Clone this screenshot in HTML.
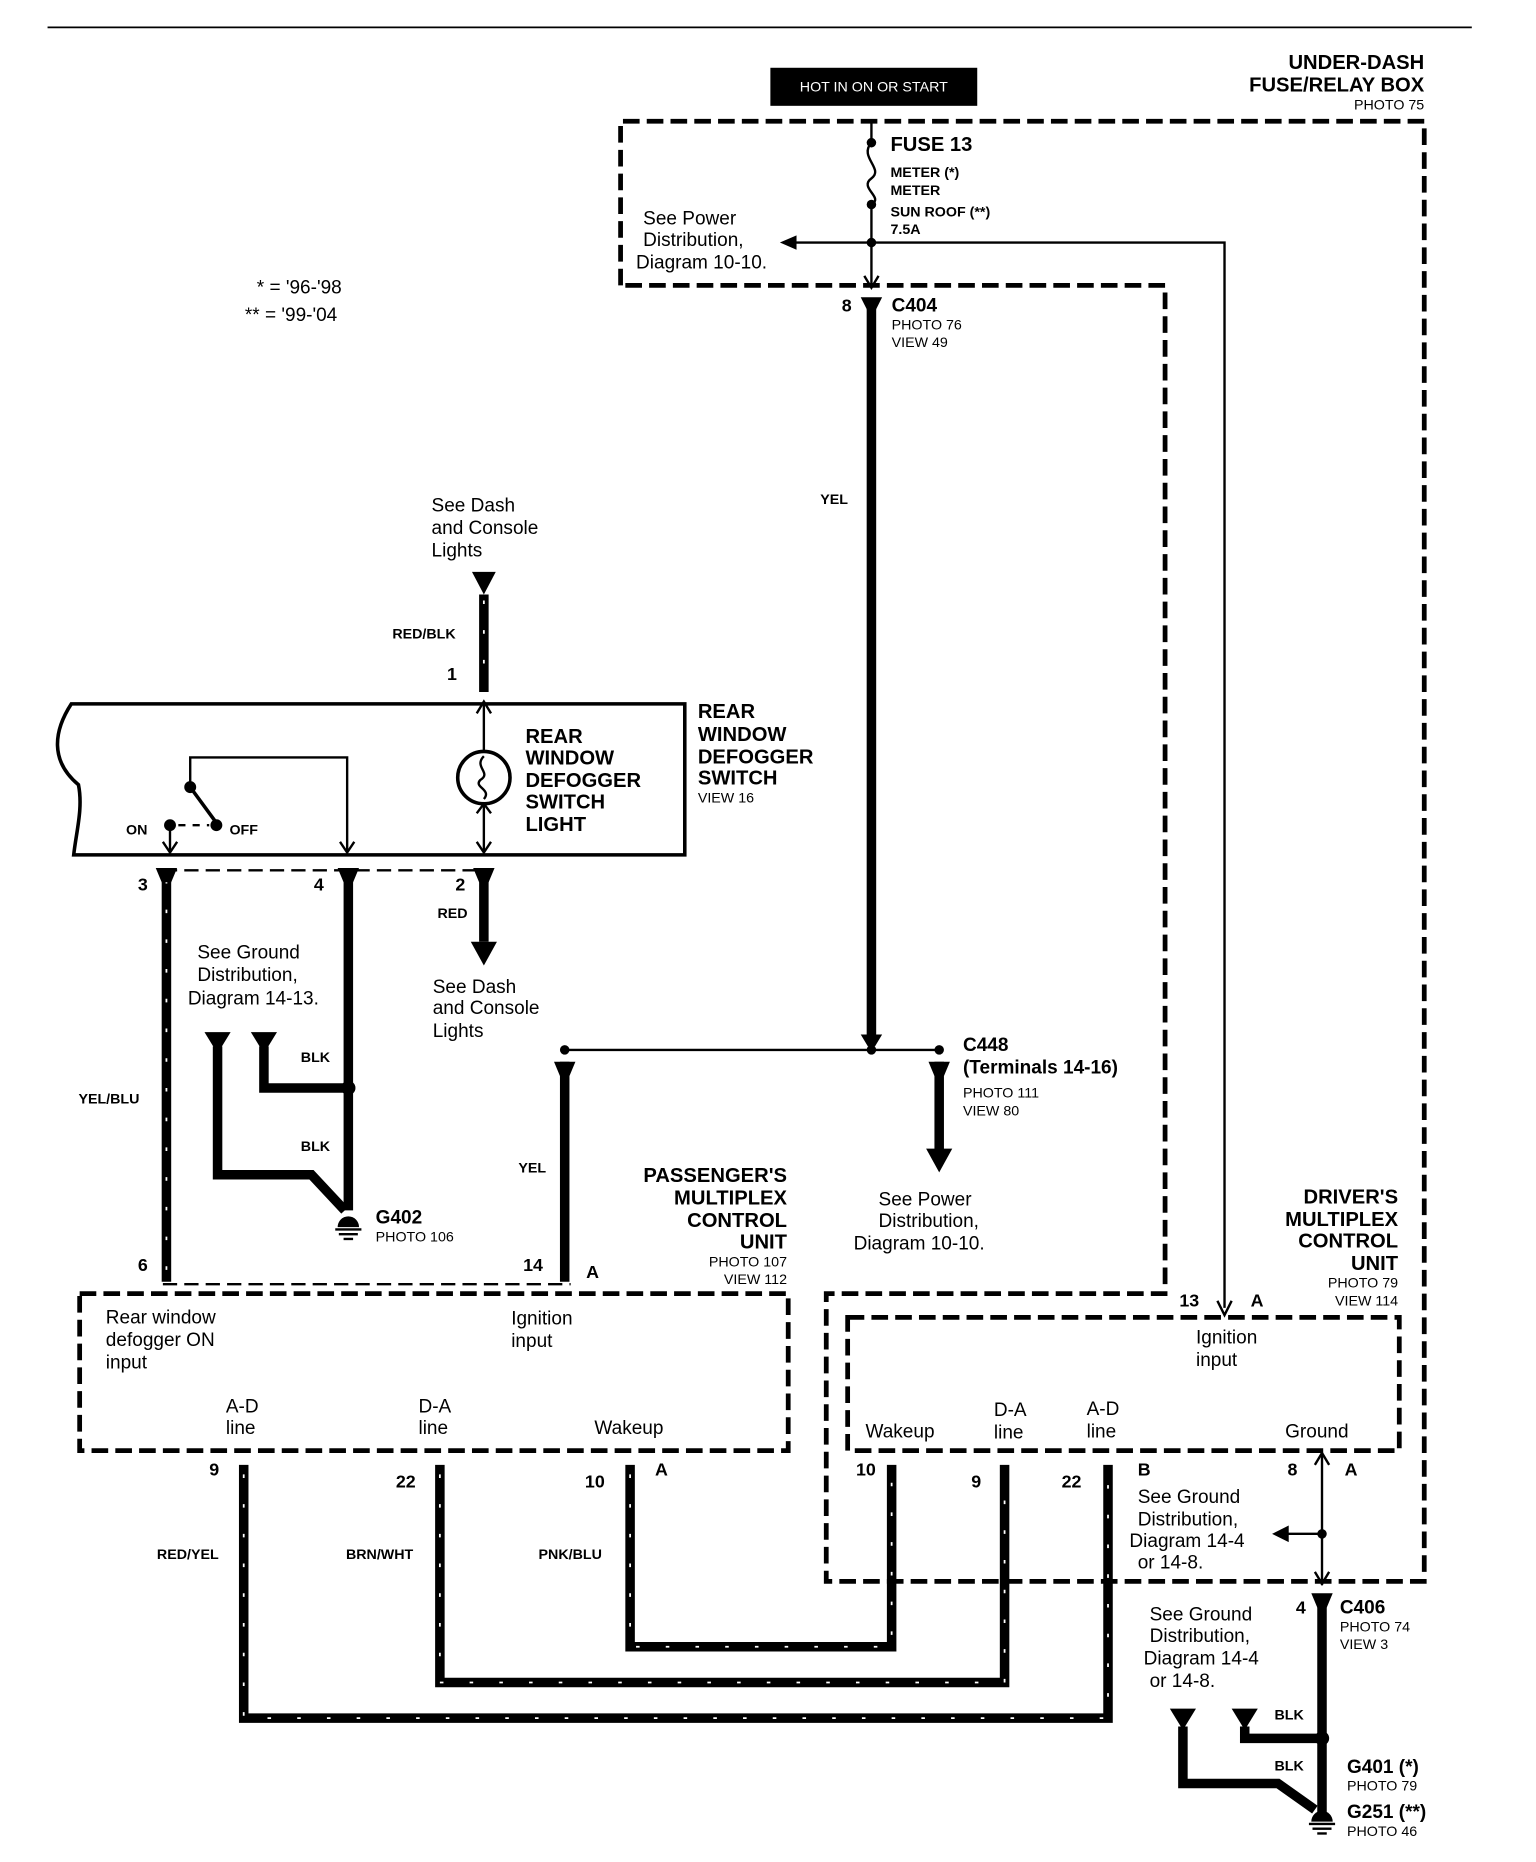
<!DOCTYPE html>
<html><head><meta charset="utf-8"><style>
html,body{margin:0;padding:0;background:#fff;}
svg{display:block;}
text{font-family:"Liberation Sans",sans-serif;fill:#000;}
.b{font-weight:bold;font-size:17px;}
.n{font-size:16px;}
.s{font-size:12px;}
.sb{font-weight:bold;font-size:12px;}
</style></head><body>
<svg width="1536" height="1862" viewBox="0 0 1292 1566" preserveAspectRatio="none" xmlns="http://www.w3.org/2000/svg">
<g fill="none" stroke="#000">
<line x1="40" y1="23" x2="1238" y2="23" stroke-width="1.5"/>
<path d="M522,240 V102 H1198 V1330 H695 V1088 H980 V240 H522" stroke-width="4" stroke-dasharray="14,6"/>
<rect x="67" y="1088" width="596" height="132" stroke-width="4" stroke-dasharray="14,6"/>
<rect x="713" y="1108" width="464" height="112" stroke-width="4" stroke-dasharray="14,6"/>
<line x1="733" y1="102" x2="733" y2="120" stroke-width="2"/>
<path d="M733,120 C722,132 744,142 733,150 C722,158 744,166 733,172" stroke-width="2"/>
<line x1="733" y1="172" x2="733" y2="240" stroke-width="2"/>
<line x1="733" y1="204" x2="668" y2="204" stroke-width="2"/>
<path d="M733,204 H1030 V1100" stroke-width="2"/>
<path d="M1024,1094 L1030,1106 L1036,1094" stroke-width="2"/>
<path d="M727,232 L733,242 L739,232" stroke-width="2"/>
<line x1="733" y1="258" x2="733" y2="872" stroke-width="8"/>
<line x1="475" y1="883" x2="790" y2="883" stroke-width="2"/>
<line x1="475" y1="893" x2="475" y2="1078" stroke-width="8"/>
<line x1="790" y1="893" x2="790" y2="968" stroke-width="8"/>
<path d="M576,592 H60 C45,615 42,640 66,660 C70,680 64,700 62,719 H576 Z" stroke-width="3"/>
<line x1="407" y1="500" x2="407" y2="582" stroke-width="8"/>
<line x1="407" y1="592" x2="407" y2="632" stroke-width="2"/>
<path d="M401,600 L407,590 L413,600" stroke-width="2"/>
<circle cx="407" cy="654" r="22" stroke-width="3"/>
<path d="M407,636 C398,645 414,650 404,656 C398,662 414,664 407,672" stroke-width="2"/>
<line x1="407" y1="676" x2="407" y2="717" stroke-width="2"/>
<path d="M401,708 L407,717 L413,708 M401,684 L407,676 L413,684" stroke-width="2"/>
<path d="M160,662 V637 H292 V717" stroke-width="2"/>
<path d="M286,708 L292,717 L298,708" stroke-width="2"/>
<line x1="160" y1="662" x2="182" y2="692" stroke-width="3"/>
<path d="M143,694 V717" stroke-width="2"/>
<path d="M137,708 L143,717 L149,708" stroke-width="2"/>
<line x1="150" y1="694" x2="176" y2="694" stroke-width="2" stroke-dasharray="6,6"/>
<line x1="137" y1="732" x2="410" y2="732" stroke-width="2" stroke-dasharray="12,6"/>
<line x1="140" y1="734" x2="140" y2="1078" stroke-width="8"/>
<line x1="293" y1="734" x2="293" y2="1018" stroke-width="8"/>
<line x1="407" y1="734" x2="407" y2="792" stroke-width="8"/>
<line x1="137" y1="1080" x2="480" y2="1080" stroke-width="2" stroke-dasharray="12,6"/>
<path d="M183,880 V988 H262 L290,1018" stroke-width="8"/>
<path d="M222,880 V915 H293" stroke-width="8"/>
<path d="M205,1232 V1445 H932 V1232" stroke-width="8"/>
<path d="M370,1232 V1415 H845 V1232" stroke-width="8"/>
<path d="M530,1232 V1385 H750 V1232" stroke-width="8"/>
<line x1="1112" y1="1222" x2="1112" y2="1333" stroke-width="2"/>
<path d="M1106,1232 L1112,1222 L1118,1232 M1106,1322 L1112,1332 L1118,1322" stroke-width="2"/>
<line x1="1112" y1="1290" x2="1082" y2="1290" stroke-width="2"/>
<line x1="1112" y1="1345" x2="1112" y2="1525" stroke-width="8"/>
<path d="M995,1452 V1500 H1075 L1106,1522" stroke-width="8"/>
<path d="M1047,1452 V1462 H1112" stroke-width="8"/>
</g>
<g fill="none" stroke="#fff" stroke-width="1.5" stroke-dasharray="3,22">
<line x1="140" y1="740" x2="140" y2="1075"/>
<line x1="407" y1="505" x2="407" y2="578"/>
<path d="M205,1240 V1445 H932 V1240"/>
<path d="M370,1240 V1415 H845 V1240"/>
<path d="M530,1240 V1385 H750 V1240"/>
</g>
<g fill="#000">
<rect x="648" y="57" width="174" height="32"/>
<circle cx="733" cy="120" r="4"/><circle cx="733" cy="172" r="4"/><circle cx="733" cy="204" r="4"/>
<polygon points="656,204 670,198 670,210"/>
<polygon points="397,481 417,481 407,500"/>
<polygon points="396,792 418,792 407,812"/>
<polygon points="779,966 801,966 790,986"/>
<polygon points="172,868 194,868 183,886"/>
<polygon points="211,868 233,868 222,886"/>
<polygon points="984,1437 1006,1437 995,1455"/>
<polygon points="1036,1437 1058,1437 1047,1455"/>
<polygon points="1070,1290 1084,1283 1084,1297"/>
<circle cx="475" cy="883" r="4"/><circle cx="733" cy="883" r="4"/><circle cx="790" cy="883" r="4"/>
<circle cx="160" cy="662" r="5"/><circle cx="182" cy="694" r="5"/><circle cx="143" cy="694" r="5"/>
<circle cx="293" cy="915" r="6"/><circle cx="1112" cy="1290" r="4"/><circle cx="1112" cy="1462" r="6"/>
<path d="M284,1032 a9,9 0 0 1 18,0 Z"/>
<rect x="282" y="1033" width="22" height="2"/><rect x="285" y="1037" width="16" height="2"/><rect x="289" y="1041" width="8" height="2"/>
<path d="M1103,1532 a9,9 0 0 1 18,0 Z"/>
<rect x="1101" y="1533" width="22" height="2"/><rect x="1104" y="1537" width="16" height="2"/><rect x="1108" y="1541" width="8" height="2"/>
<path d="M724,250 L742,250 L736,262 L730,262Z"/>
<path d="M131,730 L149,730 L144,742 L136,742Z"/>
<path d="M284,730 L302,730 L297,742 L289,742Z"/>
<path d="M398,730 L416,730 L411,742 L403,742Z"/>
<path d="M466,893 L484,893 L479,905 L471,905Z"/>
<path d="M781,893 L799,893 L794,905 L786,905Z"/>
<path d="M724,870 L742,870 L736,880 L730,880Z"/>
<path d="M1103,1340 L1121,1340 L1116,1352 L1108,1352Z"/>
</g>
<text x="735" y="77" text-anchor="middle" style="font-size:12px;fill:#fff">HOT IN ON OR START</text>
<text class="b" x="1198" y="58" text-anchor="end">UNDER-DASH</text>
<text class="b" x="1198" y="77" text-anchor="end">FUSE/RELAY BOX</text>
<text class="s" x="1198" y="92" text-anchor="end">PHOTO 75</text>
<text class="b" x="749" y="127">FUSE 13</text>
<text class="sb" x="749" y="149">METER (*)</text>
<text class="sb" x="749" y="164">METER</text>
<text class="sb" x="749" y="182">SUN ROOF (**)</text>
<text class="sb" x="749" y="197">7.5A</text>
<text class="n" x="541" y="189">See Power</text>
<text class="n" x="541" y="207">Distribution,</text>
<text class="n" x="535" y="226">Diagram 10-10.</text>
<text class="n" x="216" y="247">* = '96-'98</text>
<text class="n" x="206" y="270">** = '99-'04</text>
<text class="b" x="708" y="262" style="font-size:15px">8</text>
<text class="b" x="750" y="262" style="font-size:16px">C404</text>
<text class="s" x="750" y="277">PHOTO 76</text>
<text class="s" x="750" y="292">VIEW 49</text>
<text class="sb" x="690" y="424">YEL</text>
<text class="n" x="363" y="430">See Dash</text>
<text class="n" x="363" y="449">and Console</text>
<text class="n" x="363" y="468">Lights</text>
<text class="sb" x="330" y="537">RED/BLK</text>
<text class="b" x="376" y="572" style="font-size:15px">1</text>
<text class="b" x="442" y="625">REAR</text>
<text class="b" x="442" y="643">WINDOW</text>
<text class="b" x="442" y="662">DEFOGGER</text>
<text class="b" x="442" y="680">SWITCH</text>
<text class="b" x="442" y="699">LIGHT</text>
<text class="b" x="587" y="604">REAR</text>
<text class="b" x="587" y="623">WINDOW</text>
<text class="b" x="587" y="642">DEFOGGER</text>
<text class="b" x="587" y="660">SWITCH</text>
<text class="s" x="587" y="675">VIEW 16</text>
<text class="sb" x="106" y="702">ON</text>
<text class="sb" x="193" y="702">OFF</text>
<text class="b" x="116" y="749" style="font-size:15px">3</text>
<text class="b" x="264" y="749" style="font-size:15px">4</text>
<text class="b" x="383" y="749" style="font-size:15px">2</text>
<text class="sb" x="368" y="772">RED</text>
<text class="n" x="166" y="806">See Ground</text>
<text class="n" x="166" y="825">Distribution,</text>
<text class="n" x="158" y="845">Diagram 14-13.</text>
<text class="n" x="364" y="835">See Dash</text>
<text class="n" x="364" y="853">and Console</text>
<text class="n" x="364" y="872">Lights</text>
<text class="sb" x="253" y="893">BLK</text>
<text class="sb" x="253" y="968">BLK</text>
<text class="sb" x="66" y="928">YEL/BLU</text>
<text class="b" x="316" y="1029" style="font-size:16px">G402</text>
<text class="s" x="316" y="1044">PHOTO 106</text>
<text class="b" x="116" y="1069" style="font-size:15px">6</text>
<text class="sb" x="436" y="986">YEL</text>
<text class="b" x="440" y="1069" style="font-size:15px">14</text>
<text class="b" x="493" y="1075" style="font-size:15px">A</text>
<text class="b" x="810" y="884" style="font-size:16px">C448</text>
<text class="b" x="810" y="903" style="font-size:16px">(Terminals 14-16)</text>
<text class="s" x="810" y="923">PHOTO 111</text>
<text class="s" x="810" y="938">VIEW 80</text>
<text class="n" x="739" y="1014">See Power</text>
<text class="n" x="739" y="1032">Distribution,</text>
<text class="n" x="718" y="1051">Diagram 10-10.</text>
<text class="b" x="662" y="994" text-anchor="end">PASSENGER'S</text>
<text class="b" x="662" y="1013" text-anchor="end">MULTIPLEX</text>
<text class="b" x="662" y="1032" text-anchor="end">CONTROL</text>
<text class="b" x="662" y="1050" text-anchor="end">UNIT</text>
<text class="s" x="662" y="1065" text-anchor="end">PHOTO 107</text>
<text class="s" x="662" y="1080" text-anchor="end">VIEW 112</text>
<text class="n" x="89" y="1113">Rear window</text>
<text class="n" x="89" y="1132">defogger ON</text>
<text class="n" x="89" y="1151">input</text>
<text class="n" x="430" y="1114">Ignition</text>
<text class="n" x="430" y="1133">input</text>
<text class="n" x="190" y="1188">A-D</text>
<text class="n" x="190" y="1206">line</text>
<text class="n" x="352" y="1188">D-A</text>
<text class="n" x="352" y="1206">line</text>
<text class="n" x="500" y="1206">Wakeup</text>
<text class="b" x="176" y="1241" style="font-size:15px">9</text>
<text class="b" x="333" y="1251" style="font-size:15px">22</text>
<text class="b" x="492" y="1251" style="font-size:15px">10</text>
<text class="b" x="551" y="1241" style="font-size:15px">A</text>
<text class="sb" x="132" y="1311">RED/YEL</text>
<text class="sb" x="291" y="1311">BRN/WHT</text>
<text class="sb" x="453" y="1311">PNK/BLU</text>
<text class="b" x="1176" y="1012" text-anchor="end">DRIVER'S</text>
<text class="b" x="1176" y="1031" text-anchor="end">MULTIPLEX</text>
<text class="b" x="1176" y="1049" text-anchor="end">CONTROL</text>
<text class="b" x="1176" y="1068" text-anchor="end">UNIT</text>
<text class="s" x="1176" y="1083" text-anchor="end">PHOTO 79</text>
<text class="s" x="1176" y="1098" text-anchor="end">VIEW 114</text>
<text class="b" x="992" y="1099" style="font-size:15px">13</text>
<text class="b" x="1052" y="1099" style="font-size:15px">A</text>
<text class="n" x="1006" y="1130">Ignition</text>
<text class="n" x="1006" y="1149">input</text>
<text class="n" x="728" y="1209">Wakeup</text>
<text class="n" x="836" y="1191">D-A</text>
<text class="n" x="836" y="1210">line</text>
<text class="n" x="914" y="1190">A-D</text>
<text class="n" x="914" y="1209">line</text>
<text class="n" x="1081" y="1209">Ground</text>
<text class="b" x="720" y="1241" style="font-size:15px">10</text>
<text class="b" x="817" y="1251" style="font-size:15px">9</text>
<text class="b" x="893" y="1251" style="font-size:15px">22</text>
<text class="b" x="957" y="1241" style="font-size:15px">B</text>
<text class="b" x="1083" y="1241" style="font-size:15px">8</text>
<text class="b" x="1131" y="1241" style="font-size:15px">A</text>
<text class="n" x="957" y="1264">See Ground</text>
<text class="n" x="957" y="1283">Distribution,</text>
<text class="n" x="950" y="1301">Diagram 14-4</text>
<text class="n" x="957" y="1319">or 14-8.</text>
<text class="b" x="1090" y="1357" style="font-size:15px">4</text>
<text class="b" x="1127" y="1357" style="font-size:16px">C406</text>
<text class="s" x="1127" y="1372">PHOTO 74</text>
<text class="s" x="1127" y="1387">VIEW 3</text>
<text class="n" x="967" y="1363">See Ground</text>
<text class="n" x="967" y="1381">Distribution,</text>
<text class="n" x="962" y="1400">Diagram 14-4</text>
<text class="n" x="967" y="1419">or 14-8.</text>
<text class="sb" x="1072" y="1446">BLK</text>
<text class="sb" x="1072" y="1489">BLK</text>
<text class="b" x="1133" y="1491" style="font-size:16px">G401 (*)</text>
<text class="s" x="1133" y="1506">PHOTO 79</text>
<text class="b" x="1133" y="1529" style="font-size:16px">G251 (**)</text>
<text class="s" x="1133" y="1544">PHOTO 46</text>
</svg>
</body></html>
